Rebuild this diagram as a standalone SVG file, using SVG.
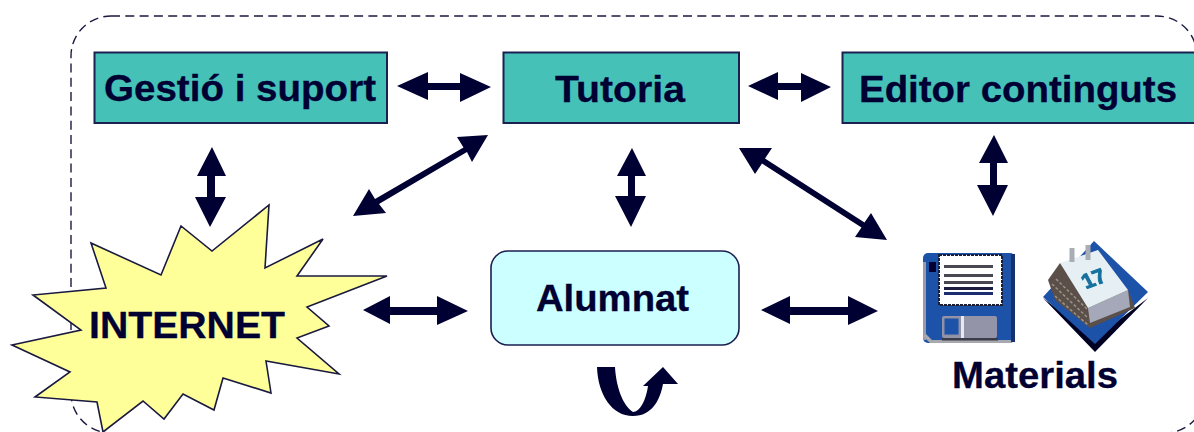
<svg xmlns="http://www.w3.org/2000/svg" width="1194" height="432" viewBox="0 0 1194 432">
<defs>
<style>
.box{fill:#45C1B8;stroke:#1A2050;stroke-width:2}
text{font-family:"Liberation Sans",Arial,sans-serif;font-weight:700;fill:#000033;font-size:37px;stroke:#000033;stroke-width:.3}
.arrow{fill:#000033;stroke:none}
.l{fill:#4A4650}
</style>
<filter id="soft" x="-5%" y="-5%" width="110%" height="110%"><feGaussianBlur stdDeviation="0.55"/></filter>
</defs>
<rect width="1194" height="432" fill="#fff"/>
<g id="boundary"><path d="M111 16H1157A40 40 0 0 1 1197 56L1205 393A40 40 0 0 1 1165 433H111A40 40 0 0 1 71 393V56A40 40 0 0 1 111 16Z" fill="none" stroke="#1A1A40" stroke-width="1.4" stroke-dasharray="9 5.3"/></g>
<g id="connectors">
<path class="arrow" d="M397 86L428 72V83H460V73L491 87L460 102V90H428V100Z"/>
<path class="arrow" d="M748 86L778 72V83H801V73L831 87L801 102V90H778V100Z"/>
<path class="arrow" d="M212 147L226 176H215V197H226L210 227L195 197H207V176H197Z"/>
<path class="arrow" d="M632 148L646 176H635V196H646L631 227L615 196H628V176H617Z"/>
<path class="arrow" d="M994 135L1008 163H997V185H1008L993 216L977 185H990V163H979Z"/>
<path class="arrow" d="M363 310L390 296V307H437V296L468 311L437 325V315H390V324Z"/>
<path class="arrow" d="M761 310L790 296V307H848V296L878 311L848 325V315H790V324Z"/>
<path class="arrow" d="M488 135L457 137L463.500 147.500L375 199L369 189L353 216L386 213L379 204L467 152L472 162Z"/>
<path class="arrow" d="M739 148L772 148L765 158.600L864.500 222.600L871 213L887 240L855 237L861.500 227.400L762 163.400L755 174Z"/>
<path class="arrow" d="M597 367H615C616 385 622 405 633 412C640 412 646 400 648 386H643L663 367L678 384H663C660 400 652 416 633 416C612 416 598 395 597 367Z"/>
</g>
<g id="gestio"><rect class="box" x="94.500" y="52.500" width="292.500" height="70.500"/><text x="104" y="101" textLength="272" lengthAdjust="spacingAndGlyphs">Gestió i suport</text></g>
<g id="tutoria"><rect class="box" x="503.500" y="52.500" width="235.500" height="70.500"/><text x="555" y="102" textLength="130" lengthAdjust="spacingAndGlyphs">Tutoria</text></g>
<g id="editor"><rect class="box" x="842.500" y="52.500" width="360" height="70.500"/><text x="859" y="102" textLength="318" lengthAdjust="spacingAndGlyphs">Editor continguts</text></g>
<g id="alumnat"><rect x="491" y="251" width="248" height="94" rx="17" fill="#CCFFFF" stroke="#1A2050" stroke-width="1.600"/><text x="536" y="311" textLength="153" lengthAdjust="spacingAndGlyphs">Alumnat</text></g>
<g id="internet"><path d="M91 243L161 275L181 226L212 251L269 205L265 268L323 239L297 276H387L307 307L329 326L297 338L339 374L266 361L271 393L223 378L214 410L183 394L164 419L143 401L103 432L97 402L35 397L70 372L12 345L81 330L33 295L106 288Z" fill="#FFFF99" stroke="#1A1A40" stroke-width="1.600"/><text x="89" y="338" textLength="196" lengthAdjust="spacingAndGlyphs">INTERNET</text></g>
<g id="materials">
<g id="floppy" filter="url(#soft)">
<rect x="923" y="253" width="92" height="90" rx="5" fill="#1F52A8"/>
<rect x="923" y="262" width="3" height="78" fill="#9A9AA8"/>
<path d="M923 336L930 343H1012V340H932L926 334Z" fill="#A8A8B0"/>
<rect x="1011" y="254" width="4" height="88" fill="#14306E"/>
<rect x="929" y="262" width="7" height="10" fill="#000033"/>
<rect x="939" y="255" width="63" height="50" fill="#fff" stroke="#1A1A30" stroke-width="2" stroke-dasharray="3 1"/>
<rect class="l" x="944" y="265" width="49" height="3"/>
<rect class="l" x="944" y="274" width="49" height="3"/>
<rect class="l" x="944" y="281" width="49" height="3"/>
<rect x="944" y="287" width="49" height="3" fill="#1A1A40"/>
<rect x="944" y="292" width="49" height="3" fill="#1F2F70"/>
<rect x="942" y="316" width="55" height="22" rx="2" fill="#9494A8"/>
<rect x="944" y="318" width="15" height="17" fill="#1F52A8" stroke="#8C8CA4"/>
<rect x="961" y="316" width="3" height="22" fill="#E8E8F0"/>
<rect x="942" y="338" width="56" height="2.500" fill="#3A3A48"/>
</g>
<g id="calendar" filter="url(#soft)">
<path d="M1043 298L1095 352L1148 298L1095 338Z" fill="#000022"/>
<path d="M1094 241L1148 292L1095 344L1043 297Z" fill="#1F52A8"/>
<path d="M1060 263L1048 280L1055 300L1090 328L1135 308L1128 290Z" fill="#5A5048"/>
<path d="M1052 284L1088 318M1056 279L1088 310M1055 296L1088 325" stroke="#9A9288" stroke-width="1.500" stroke-dasharray="3 2" fill="none"/>
<path d="M1088 308L1128 290L1130 307L1090 323Z" fill="#A4A8B8"/>
<path d="M1060 263L1098 250L1128 290L1088 308Z" fill="#E6F0F4"/>
<path d="M1072 248V262M1088 245V260" stroke="#A8AEB4" stroke-width="5" fill="none"/>
<text transform="translate(1086 289) rotate(-20) skewX(8)" style="font-size:21px;fill:#14709E;stroke:#14709E;stroke-width:1">17</text>
</g>
<text x="952" y="388" textLength="166" lengthAdjust="spacingAndGlyphs">Materials</text>
</g>
</svg>
